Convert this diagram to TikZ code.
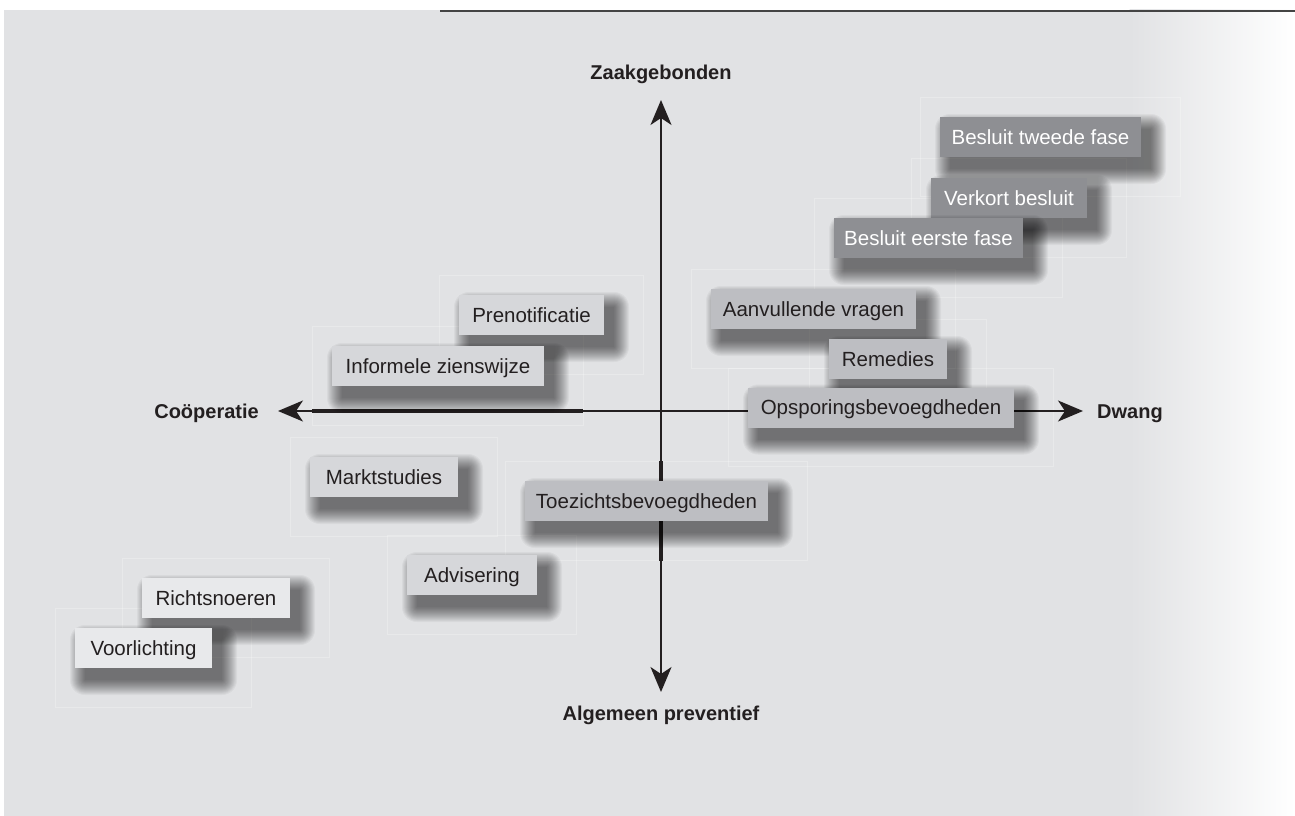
\documentclass[tikz,border=0pt]{standalone}
\usepackage{fontspec}
\setmainfont{Liberation Sans}
\usetikzlibrary{arrows.meta}
\definecolor{bg}{HTML}{E1E2E4}
\definecolor{boxlight}{HTML}{D6D7DA}
\definecolor{boxpale}{HTML}{E8E9EB}
\definecolor{boxmid}{HTML}{BDBEC2}
\definecolor{boxdark}{HTML}{8E8F93}
\definecolor{ink}{HTML}{231F20}
\definecolor{topline}{HTML}{444444}
\tikzset{
  box/.style={rectangle, inner sep=0pt, minimum height=40pt, text height=14.5pt, text depth=0pt,
    font=\fontsize{20.5}{24}\selectfont, text=ink},
  lightbox/.style={box, fill=boxlight},
  palebox/.style={box, fill=boxpale},
  midbox/.style={box, fill=boxmid},
  darkbox/.style={box, fill=boxdark, text=white},
  shadowlayer/.style={fill=black, fill opacity=0.038},
  axlabel/.style={inner sep=0pt, text height=14.5pt, text depth=0pt, font=\fontsize{20}{24}\selectfont\bfseries, text=ink},
  axis/.style={draw=ink, line width=2pt, {Stealth[length=25pt, width=21pt, inset=7pt]}-{Stealth[length=25pt, width=21pt, inset=7pt]}},
  axisthick/.style={draw=ink, line width=4pt},
  frame/.style={draw=white, draw opacity=0.25, line width=0.8pt}
}
% #1 style, #2 name, #3 cx, #4 cy, #5 width, #6 text
\newcommand\qbox[6]{%
  \foreach \k in {0,...,15}{%
    \pgfmathsetmacro\g{15-\k}%
    \fill[shadowlayer, rounded corners=\g pt] (#3-#5/2+10-\g, #4-20+12-\g) rectangle (#3+#5/2+10+\g, #4+20+12+\g);
  }%
  \node[#1, minimum width=#5 pt] (#2) at (#3,#4) {#6};
}
\begin{document}
\begin{tikzpicture}[x=1pt,y=-1pt]
\useasboundingbox (0,0) rectangle (1295,816);
\fill[white] (0,0) rectangle (1295,816);
\fill[bg] (4,10) rectangle (1130,816);
\shade[left color=bg, right color=white] (1129.5,10) rectangle (1295,816);
\draw[topline, line width=2pt] (440,11) -- (1295,11);

% faint frames
\draw[frame] (920,97) rectangle (1180,196);
\draw[frame] (911,158) rectangle (1126,257);
\draw[frame] (814,198) rectangle (1062,297);
\draw[frame] (691,269) rectangle (955,368);
\draw[frame] (809,319) rectangle (986,418);
\draw[frame] (728,368) rectangle (1053,466);
\draw[frame] (505,461) rectangle (807,560);
\draw[frame] (439,275) rectangle (643,374);
\draw[frame] (312,326) rectangle (583,425);
\draw[frame] (290,437) rectangle (497,536);
\draw[frame] (387,535) rectangle (576,634);
\draw[frame] (122,558) rectangle (329,657);
\draw[frame] (55,608) rectangle (251,707);

% axes
\coordinate (axl) at (278,411);
\coordinate (axr) at (1083,411);
\coordinate (axt) at (661,100);
\coordinate (axb) at (661,692);
\coordinate (hk1) at (312,411);
\coordinate (hk2) at (583,411);
\coordinate (vk1) at (661,461);
\coordinate (vk2) at (661,561);
\draw[axis] (axl) -- (axr);
\draw[axis] (axt) -- (axb);
\draw[axisthick] (hk1) -- (hk2);
\draw[axisthick] (vk1) -- (vk2);

% axis labels
\node[axlabel] (zaak) at (661,72) {Zaakgebonden};
\node[axlabel, anchor=east] (coop) at (259,411) {Coöperatie};
\node[axlabel, anchor=west] (dwang) at (1097,411) {Dwang};
\node[axlabel] (alg) at (661,713) {Algemeen preventief};

% boxes
\qbox{darkbox}{tweede}{1040.5}{137}{201}{Besluit tweede fase}
\qbox{darkbox}{verkort}{1009}{198}{156}{Verkort besluit}
\qbox{darkbox}{eerste}{928.5}{238}{189}{Besluit eerste fase}
\qbox{lightbox}{preno}{531.5}{315}{145}{Prenotificatie}
\qbox{midbox}{aanv}{813.5}{309}{205}{Aanvullende vragen}
\qbox{lightbox}{infor}{438}{366}{212}{Informele zienswijze}
\qbox{midbox}{remed}{888}{359}{118}{Remedies}
\qbox{midbox}{opspo}{881}{407.5}{266}{Opsporingsbevoegdheden}
\qbox{lightbox}{markt}{384}{477}{148}{Marktstudies}
\qbox{midbox}{toez}{646.5}{501}{243}{Toezichtsbevoegdheden}
\qbox{lightbox}{advis}{472}{575}{130}{Advisering}
\qbox{palebox}{richt}{216}{598}{148}{Richtsnoeren}
\qbox{palebox}{voorl}{143.5}{648}{137}{Voorlichting}
\end{tikzpicture}
\end{document}
